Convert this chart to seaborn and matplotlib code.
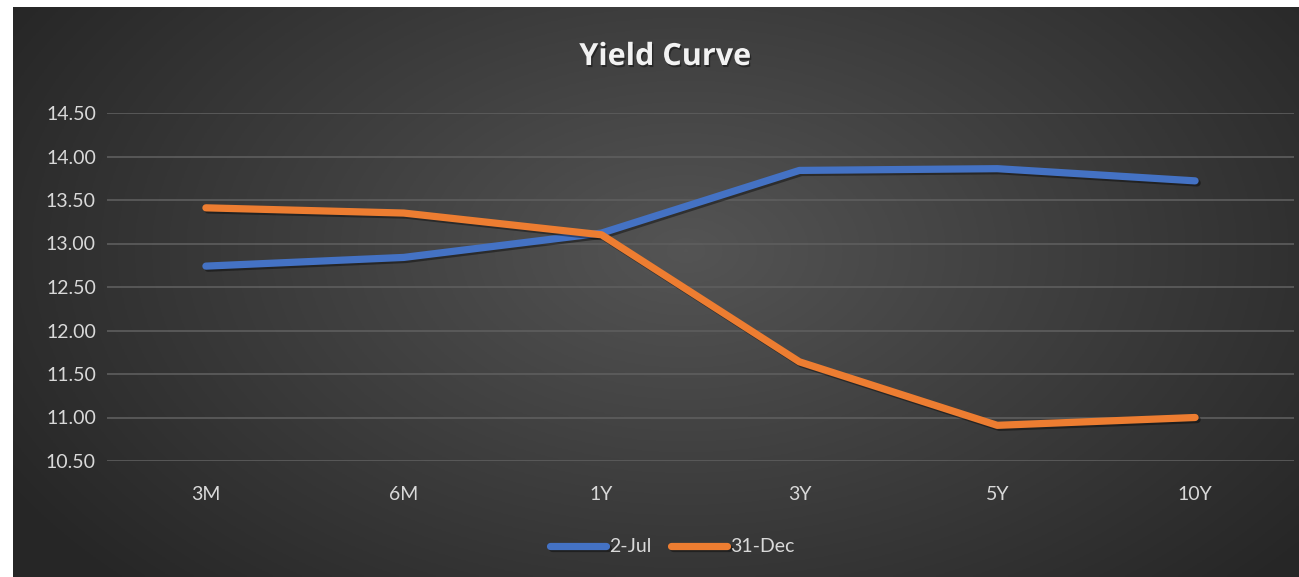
import numpy as np
import pandas as pd
import matplotlib
matplotlib.use("Agg")
import matplotlib.pyplot as plt
import matplotlib.patheffects as pe
import seaborn as sns

# data
tenors = ["3M", "6M", "1Y", "3Y", "5Y", "10Y"]
jul_2 = [12.74, 12.84, 13.12, 13.84, 13.86, 13.72]
dec_31 = [13.41, 13.35, 13.10, 11.64, 10.91, 11.00]
series_names = ["2-Jul", "31-Dec"]
series_colors = ["#4472C4", "#ED7D31"]
y_ticks = [10.5, 11.0, 11.5, 12.0, 12.5, 13.0, 13.5, 14.0, 14.5]

df = pd.DataFrame({
    "Tenor": tenors * 2,
    "Yield": jul_2 + dec_31,
    "Series": [series_names[0]] * len(tenors) + [series_names[1]] * len(tenors),
})

sns.set_theme(style="dark")
plt.rcParams["font.family"] = ["Lato", "DejaVu Sans"]

W, H = 1299, 577
fig = plt.figure(figsize=(W / 100, H / 100), dpi=100)
fig.patch.set_facecolor("white")

# dark radial-gradient chart background (Excel style)
bg = fig.add_axes([13 / W, 0, 1 - 13 / W, 1 - 7 / H])
yy, xx = np.mgrid[0:200, 0:450]
r = np.sqrt(((xx - 235) / 260) ** 2 + ((yy - 85) / 160) ** 2)
shade = np.clip(0.33 - 0.17 * r, 0.15, 0.34)
bg.imshow(np.dstack([shade] * 3), aspect="auto", extent=[0, 1, 0, 1])
bg.set_axis_off()

ax = fig.add_axes([107 / W, 1 - 461 / H, 1187 / W, 348 / H])
ax.patch.set_alpha(0)

sns.lineplot(data=df, x="Tenor", y="Yield", hue="Series", palette=series_colors,
             linewidth=5.2, ax=ax, legend=True, sort=False)
for line in ax.get_lines():
    line.set_solid_capstyle("round")
    line.set_solid_joinstyle("round")
    line.set_path_effects([pe.SimpleLineShadow(offset=(1.5, -1.5), shadow_color="black", alpha=0.4),
                           pe.Normal()])

ax.set_xlim(-0.5, len(tenors) - 0.5)
ax.set_ylim(10.5, 14.5)
ax.set_yticks(y_ticks)
ax.set_yticklabels([f"{v:.2f}" for v in y_ticks])
ax.grid(axis="y", color="#5e5e5e", linewidth=1.2)
ax.grid(axis="x", visible=False)
ax.set_axisbelow(True)
for s in ax.spines.values():
    s.set_visible(False)
ax.tick_params(axis="both", colors="#d9d9d9", labelsize=14, length=0)
ax.tick_params(axis="y", pad=8)
ax.tick_params(axis="x", pad=18)
ax.set_xlabel("")
ax.set_ylabel("")

leg = ax.legend(loc="center", bbox_to_anchor=(672 / W, 30 / H), bbox_transform=fig.transFigure,
                ncol=2, frameon=False, fontsize=14, handlelength=2.9, handletextpad=0.15,
                columnspacing=1.0)
for t in leg.get_texts():
    t.set_color("#d9d9d9")
for h in leg.get_lines():
    h.set_linewidth(5.2)
    h.set_solid_capstyle("round")

fig.text(665 / W, 1 - 57 / H, "Yield Curve", ha="center", va="center", color="#f2f2f2",
         fontsize=22, fontweight="bold", family=["Open Sans", "DejaVu Sans"],
         path_effects=[pe.withSimplePatchShadow(offset=(1, -1.5), shadow_rgbFace="black", alpha=0.4)])

fig.savefig("out.png", dpi=100)
